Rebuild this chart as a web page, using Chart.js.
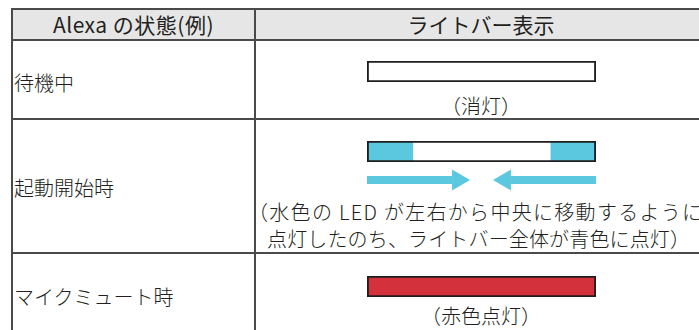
<!DOCTYPE html>
<html>
<head>
<meta charset="utf-8">
<script src="https://cdn.jsdelivr.net/npm/chart.js@4/dist/chart.umd.min.js"></script>
<style>
  html, body { margin: 0; padding: 0; background: #fff; }
  body { width: 699px; height: 330px; overflow: hidden; position: relative;
         font-family: "Noto Sans CJK JP", "Noto Sans", sans-serif; color: #231f20; }
  .hline, .vline { position: absolute; background: #4a4a4a; }
  .hline { left: 11px; width: 720px; height: 2px; }
  .vline { width: 2px; }
  .head { position: absolute; left: 11px; top: 8px; width: 720px; height: 32px; background: #e6e6e6; }
  .t { position: absolute; font-size: 20px; line-height: 24px; white-space: nowrap; font-weight: 300; }
  .h { font-size: 21px; font-weight: 400; }
  .c { text-align: center; }
  canvas { position: absolute; }
</style>
</head>
<body>
<div class="head"></div>
<div class="hline" style="top:8px"></div>
<div class="hline" style="top:39px"></div>
<div class="hline" style="top:118px"></div>
<div class="hline" style="top:252px"></div>
<div class="vline" style="left:11px;top:8px;height:330px"></div>
<div class="vline" style="left:254px;top:8px;height:330px"></div>

<div class="t c h" style="left:12px;width:243px;top:12px;letter-spacing:0.5px">Alexa の状態(例)</div>
<div class="t c h" style="left:256px;width:450px;top:12px">ライトバー表示</div>

<div class="t" style="left:14px;top:71px">待機中</div>
<div class="t c" style="left:256px;width:450px;top:94px">（消灯）</div>

<div class="t" style="left:14px;top:176px">起動開始時</div>
<div class="t" style="left:248px;top:200px;letter-spacing:1.3px">（水色の LED が左右から中央に移動するように</div>
<div class="t" style="left:267px;top:227px;letter-spacing:0.15px">点灯したのち、ライトバー全体が青色に点灯）</div>

<div class="t" style="left:14px;top:285px">マイクミュート時</div>
<div class="t c" style="left:256px;width:450px;top:304px">（赤色点灯）</div>

<canvas id="bar1" width="229" height="21" style="left:367px;top:61px"></canvas>
<canvas id="bar2" width="229" height="53" style="left:367px;top:141px"></canvas>
<canvas id="bar3" width="229" height="21" style="left:367px;top:276px"></canvas>

<script>
// light bar segments, in percent of the bar length
const idleSegments = [[0, 100]];
const idleColors = ['#ffffff'];

const startSegments = [[0, 20], [20, 80], [80, 100]];
const startColors = ['#5bc8e0', '#ffffff', '#5bc8e0'];

const muteSegments = [[0, 100]];
const muteColors = ['#d3313b'];

// arrows under the startup bar (from -> to, percent)
const arrows = [[0, 45], [100, 55]];

const cyan = '#5bc8e0';

const arrowPlugin = {
    id: 'arrows',
    afterDatasetsDraw(chart, args, opts) {
        if (!opts.list) return;
        const ctx = chart.ctx;
        const x = chart.scales.x;
        const y = chart.chartArea.bottom + 18;
        ctx.save();
        ctx.fillStyle = opts.color;
        opts.list.forEach(a => {
            const x0 = x.getPixelForValue(a[0]);
            const x1 = x.getPixelForValue(a[1]);
            const dir = x1 > x0 ? 1 : -1;
            const head = 18;
            const xh = x1 - dir * head;
            ctx.fillRect(Math.min(x0, xh), y - 4, Math.abs(xh - x0), 8);
            ctx.beginPath();
            ctx.moveTo(xh, y - 10.5);
            ctx.lineTo(x1, y);
            ctx.lineTo(xh, y + 10.5);
            ctx.closePath();
            ctx.fill();
        });
        ctx.restore();
    }
};

function lightBar(id, segments, colors, bottomPad, arrowList) {
    const datasets = [{
        data: [[0, 100]],
        backgroundColor: 'rgba(0,0,0,0)',
        borderColor: '#1e1e1e',
        borderWidth: 1.5,
        borderSkipped: false
    }];
    segments.forEach((s, i) => {
        datasets.push({
            data: [s],
            backgroundColor: colors[i],
            borderWidth: 0
        });
    });
    new Chart(document.getElementById(id), {
        type: 'bar',
        data: { labels: [''], datasets: datasets },
        options: {
            indexAxis: 'y',
            responsive: false,
            animation: false,
            grouped: false,
            categoryPercentage: 1,
            barPercentage: 1,
            layout: { padding: { top: 0, left: 0, right: 0, bottom: bottomPad } },
            scales: {
                x: { display: false, min: 0, max: 100 },
                y: { display: false }
            },
            plugins: {
                legend: { display: false },
                tooltip: { enabled: false },
                arrows: { list: arrowList, color: cyan }
            }
        },
        plugins: [arrowPlugin]
    });
}

lightBar('bar1', idleSegments, idleColors, 0, null);
lightBar('bar2', startSegments, startColors, 32, arrows);
lightBar('bar3', muteSegments, muteColors, 0, null);
</script>
</body>
</html>
